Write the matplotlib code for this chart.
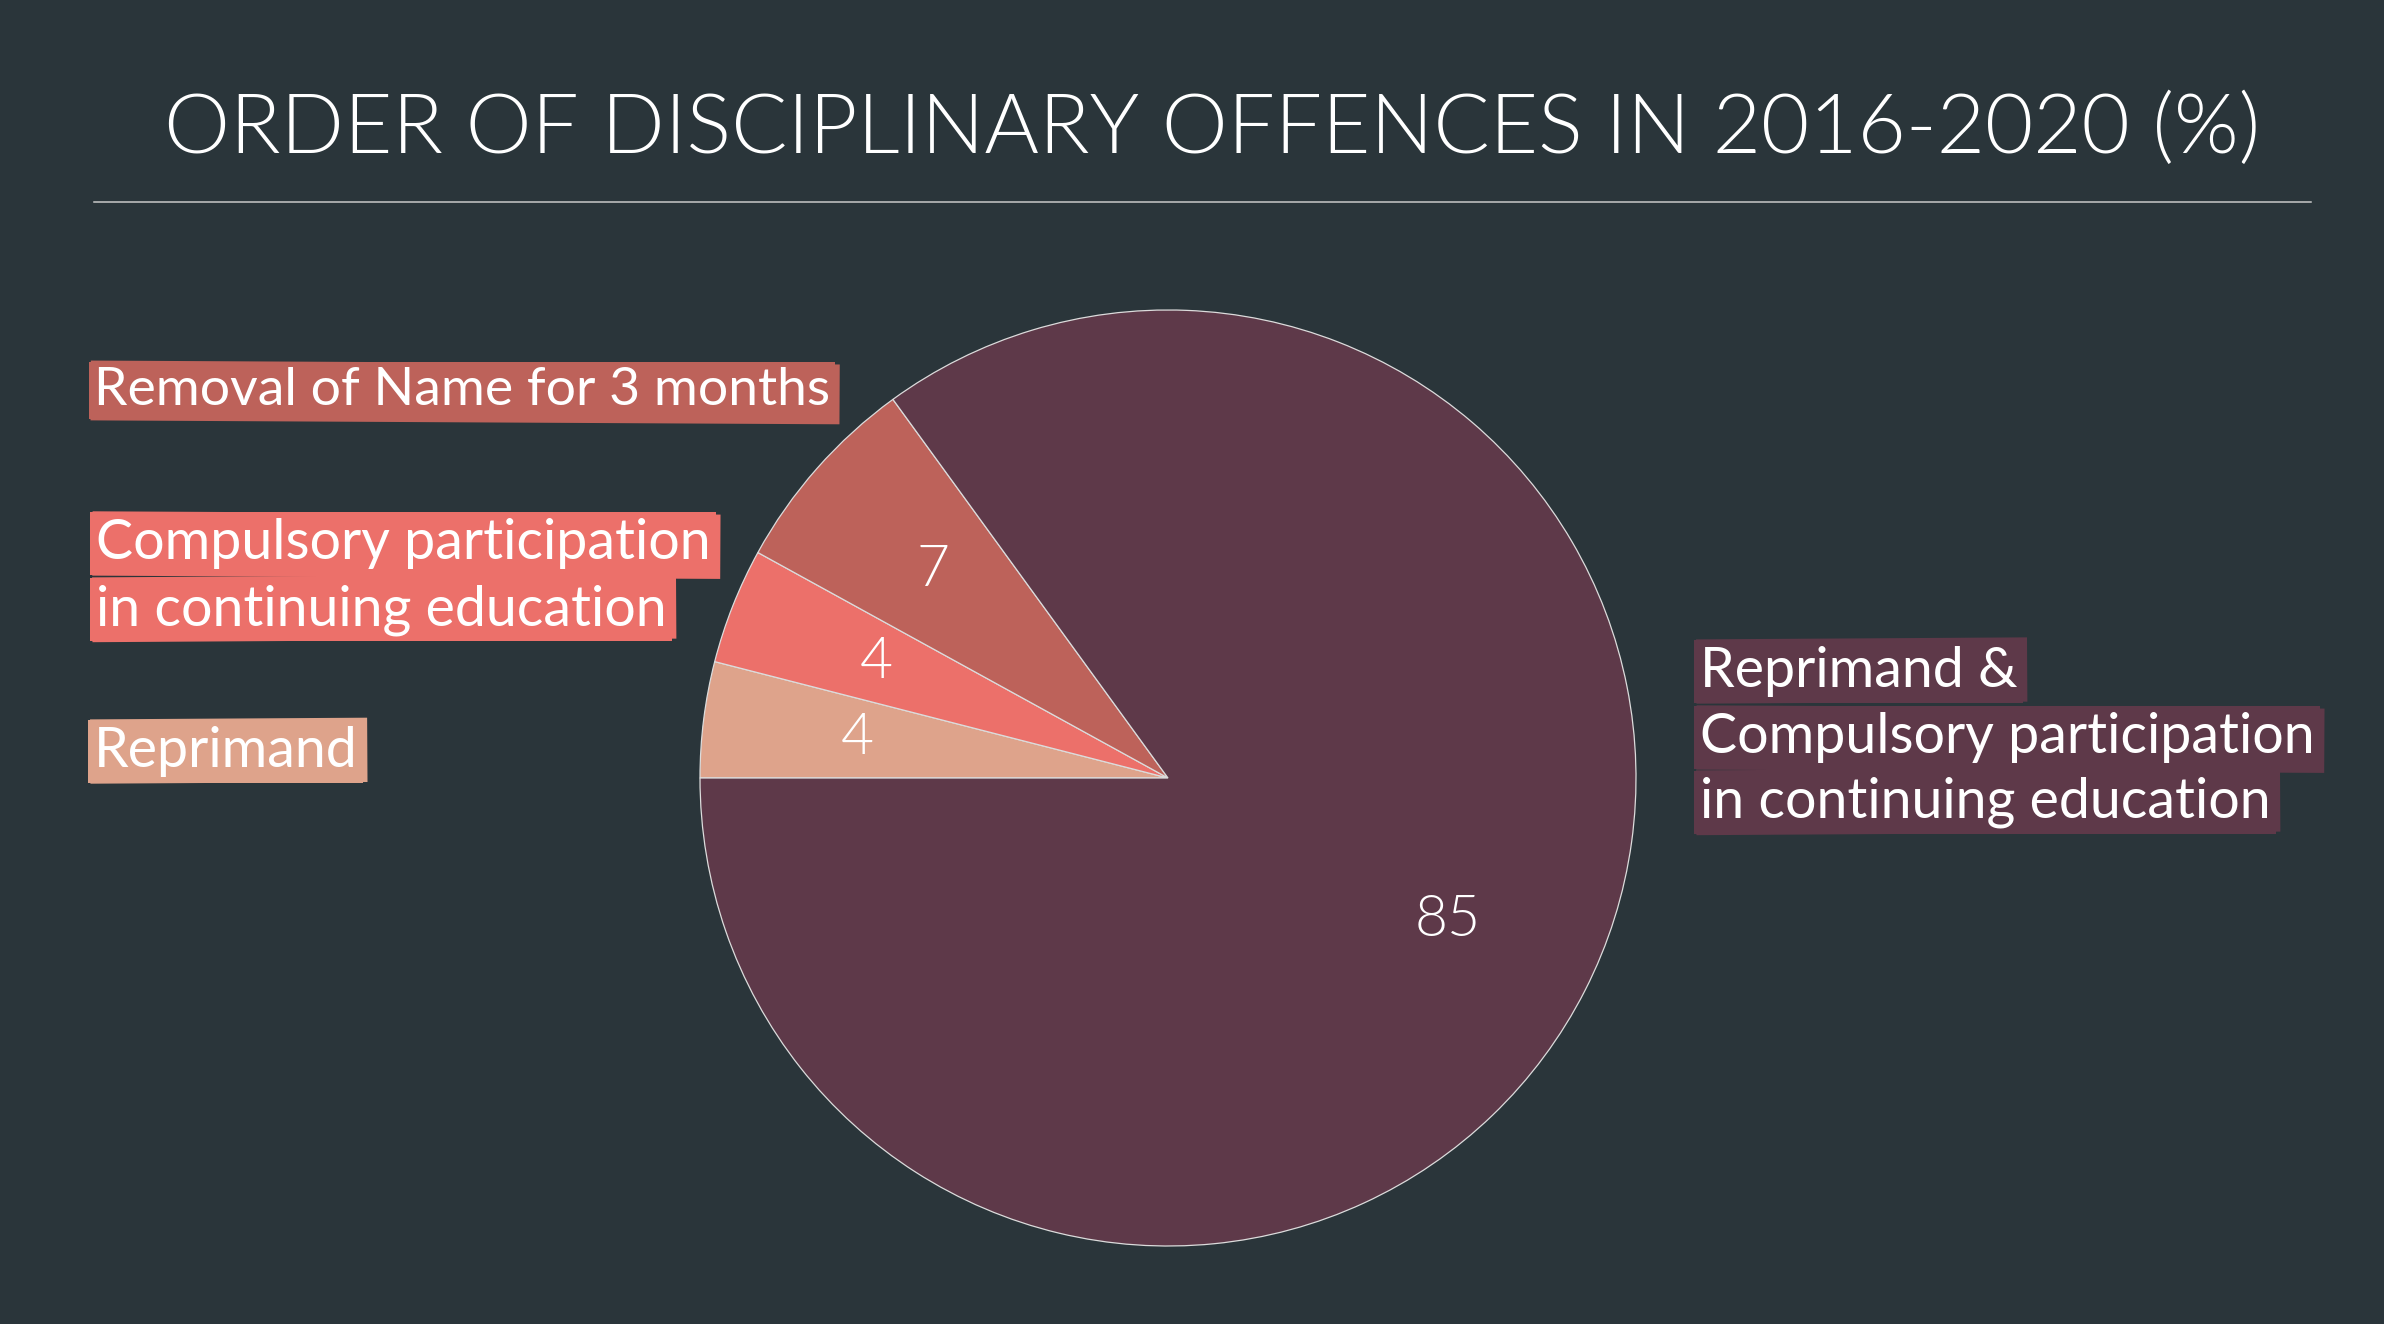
import matplotlib
matplotlib.use('Agg')
import matplotlib.pyplot as plt

# chart data
categories = ['Reprimand',
              'Compulsory participation in continuing education',
              'Removal of Name for 3 months',
              'Reprimand & Compulsory participation in continuing education']
values = [4, 4, 7, 85]
colors = ['#dea38b', '#ec706a', '#bd625a', '#5e3949']
title = 'ORDER OF DISCIPLINARY OFFENCES IN 2016-2020 (%)'

# label lines, as shown on the slide
label_lines = [
    ['Reprimand'],
    ['Compulsory participation', 'in continuing education'],
    ['Removal of Name for 3 months'],
    ['Reprimand &', 'Compulsory participation', 'in continuing education'],
]

BG = '#2a353a'
W, H = 2384, 1324
plt.rcParams['font.family'] = ['Lato', 'DejaVu Sans']

fig = plt.figure(figsize=(W / 100, H / 100), dpi=100, facecolor=BG)

# overlay axes in pixel coordinates for title, rule and labels
ov = fig.add_axes([0, 0, 1, 1])
ov.set_xlim(0, W)
ov.set_ylim(H, 0)
ov.axis('off')

ov.text(1212, 153, title, color='white', fontsize=60, fontweight=300,
        ha='center', va='baseline')
ov.plot([94, 2311], [202, 202], color='#c9c9c9', lw=1.1)

# pie
cx, cy, r = 1168, 778, 468
ax = fig.add_axes([(cx - r) / W, (H - cy - r) / H, 2 * r / W, 2 * r / H])
ax.set_facecolor('none')
wedges, texts, autotexts = ax.pie(
    values, colors=colors, startangle=180, counterclock=False,
    autopct='%d', pctdistance=0.67,
    wedgeprops=dict(edgecolor='#dcdcdc', linewidth=0.9, clip_on=False),
    textprops=dict(color='white', fontsize=41, fontweight=300))
ax.set_xlim(-1, 1)
ax.set_ylim(-1, 1)
ax.axis('off')

# labels with highlighter boxes (x of text, baseline of each line, font size)
label_pos = [
    (94, [767], 40),
    (96, [559, 625], 40),
    (94, [405], 38.5),
    (1700, [687, 753, 818], 40),
]
k = 0
for lines, (x, ys, fs), col in zip(label_lines, label_pos, colors):
    for line, y in zip(lines, ys):
        # slightly tilted second box gives the rough marker edge
        tilt = 0.35 if k % 2 == 0 else -0.3
        ov.text(x + 3, y, line, color='none', fontsize=fs, ha='left', va='baseline',
                rotation=tilt, rotation_mode='anchor',
                bbox=dict(boxstyle='square,pad=0.12', fc=col, ec='none'))
        ov.text(x, y, line, color='white', fontsize=fs, ha='left', va='baseline',
                bbox=dict(boxstyle='square,pad=0.1', fc=col, ec='none'))
        k += 1

fig.savefig('out.png', dpi=100, facecolor=BG)
